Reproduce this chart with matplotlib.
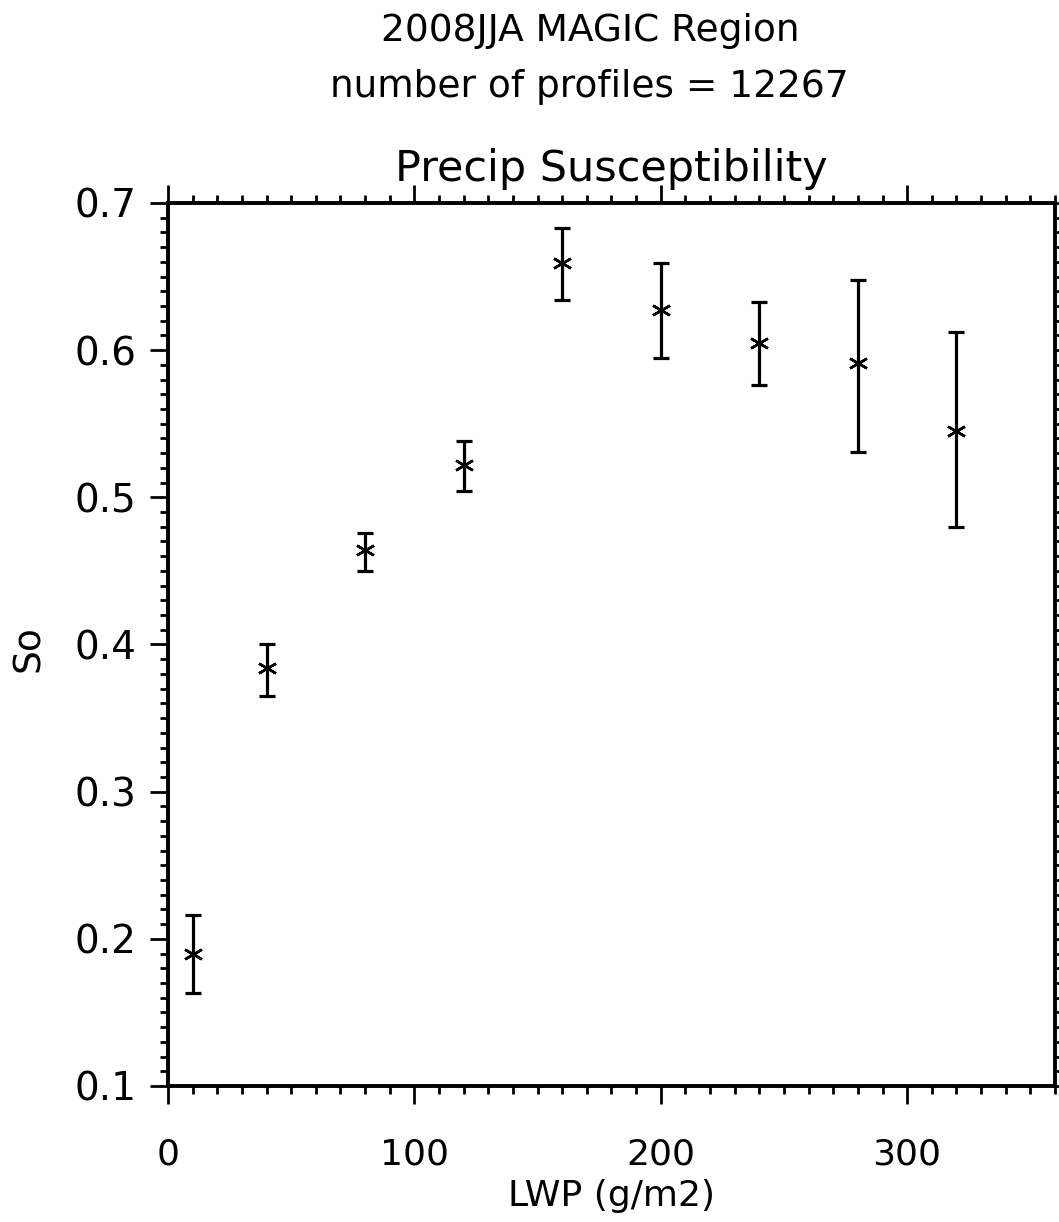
import numpy as np
import matplotlib
matplotlib.use("Agg")
import matplotlib.pyplot as plt
from matplotlib.ticker import MultipleLocator

# LWP bins and precip susceptibility
lwp = [10, 40, 80, 120, 160, 200, 240, 280, 320]
so = [0.190, 0.384, 0.464, 0.522, 0.659, 0.627, 0.605, 0.591, 0.545]
so_hi = [0.216, 0.400, 0.476, 0.538, 0.683, 0.659, 0.633, 0.648, 0.612]
so_lo = [0.163, 0.365, 0.450, 0.504, 0.634, 0.595, 0.576, 0.531, 0.480]

title1 = "2008JJA MAGIC Region"
title2 = "number of profiles = 12267"

err_lo = np.array(so) - np.array(so_lo)
err_hi = np.array(so_hi) - np.array(so)

fig = plt.figure(figsize=(10.59, 12.22), dpi=100)
ax = fig.add_axes([0.1586, 0.1113, 0.8376, 0.7226])

ax.errorbar(lwp, so, yerr=[err_lo, err_hi], fmt='none', ecolor='black',
            elinewidth=2.3, capsize=6, capthick=2.3)
ax.plot(lwp, so, linestyle='none', marker=(6, 2, 0), markersize=14,
        markeredgewidth=1.8, color='black')

ax.set_xlim(0, 360)
ax.set_ylim(0.1, 0.7)
ax.xaxis.set_major_locator(MultipleLocator(100))
ax.xaxis.set_minor_locator(MultipleLocator(10))
ax.yaxis.set_major_locator(MultipleLocator(0.1))
ax.yaxis.set_minor_locator(MultipleLocator(0.01))
ax.yaxis.set_major_formatter(plt.FuncFormatter(lambda v, p: "%.1f" % v))

for s in ax.spines.values():
    s.set_linewidth(2.8)

ax.tick_params(which='major', direction='out', length=13, width=2,
               labelsize=26, top=True, right=True)
ax.tick_params(axis='x', which='major', pad=24)
ax.tick_params(axis='y', which='major', pad=10, labelsize=28)
ax.tick_params(which='minor', direction='out', length=6, width=2,
               top=True, right=True)

ax.set_title("Precip Susceptibility", fontsize=31, pad=16)
fig.text(0.557, 0.9746, title1, ha='center', va='center', fontsize=27)
fig.text(0.557, 0.929, title2, ha='center', va='center', fontsize=27)
fig.text(0.577, 0.021, "LWP (g/m2)", ha='center', va='center', fontsize=26)
fig.text(0.027, 0.469, "So", ha='center', va='center', fontsize=27,
         rotation=90)

fig.savefig("out.png", dpi=100, facecolor='white')
